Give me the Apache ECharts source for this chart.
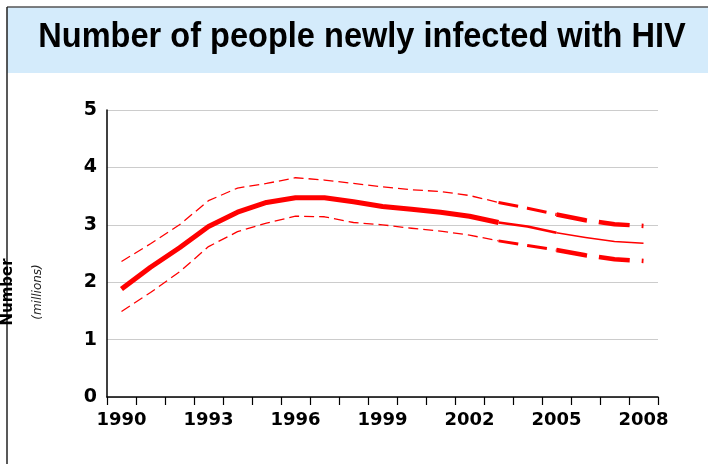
<!DOCTYPE html>
<html>
<head>
<meta charset="utf-8">
<script src="https://cdn.jsdelivr.net/npm/echarts@6/dist/echarts.min.js"></script>
<style>
  html, body { margin: 0; padding: 0; background: #fff; }
  #chart { width: 708px; height: 464px; }
</style>
</head>
<body>
<div id="chart"></div>
<script>
const years = ['1990', '1991', '1992', '1993', '1994', '1995', '1996', '1997', '1998', '1999',
               '2000', '2001', '2002', '2003', '2004', '2005', '2006', '2007', '2008'];
const estimate = [1.88, 2.26, 2.60, 2.97, 3.22, 3.39, 3.47, 3.47, 3.40, 3.32,
                  3.27, 3.22, 3.15, 3.04, 2.97, 2.86, 2.78, 2.71, 2.68];
const upper = [2.36, 2.67, 3.00, 3.42, 3.64, 3.72, 3.82, 3.78, 3.72, 3.66,
               3.61, 3.58, 3.51, 3.39, 3.29, 3.18, 3.08, 3.01, 2.98];
const lower = [1.49, 1.82, 2.18, 2.62, 2.88, 3.03, 3.15, 3.14, 3.04, 3.00,
               2.94, 2.89, 2.82, 2.72, 2.64, 2.56, 2.47, 2.40, 2.37];
const yTicks = [0, 1, 2, 3, 4, 5];

const RED = '#ff0000';

// keep only the points between two years (inclusive), null elsewhere
function part(arr, from, to) {
    const a = years.indexOf(from), b = years.indexOf(to);
    return arr.map((v, i) => (i >= a && i <= b ? v : null));
}

function line(data, width, dash) {
    return {
        type: 'line',
        data: data,
        symbol: 'none',
        connectNulls: false,
        silent: true,
        lineStyle: { color: RED, width: width, type: dash || 'solid', cap: 'butt', join: 'round' }
    };
}

const chart = echarts.init(document.getElementById('chart'));

chart.setOption({
    animation: false,
    grid: { left: 107, right: 50, top: 110, bottom: 67 },
    graphic: [
        { type: 'rect', shape: { x: 7, y: 7, width: 701, height: 66 }, style: { fill: '#d4ebfb' }, z: -10 },
        { type: 'line', shape: { x1: 7, y1: 7, x2: 708, y2: 7 }, style: { stroke: '#555', lineWidth: 1.5 } },
        { type: 'line', shape: { x1: 7, y1: 7, x2: 7, y2: 464 }, style: { stroke: '#222', lineWidth: 1.5 } },
        {
            type: 'text', x: 362, y: 37, scaleX: 0.93,
            style: {
                text: 'Number of people newly infected with HIV',
                fontFamily: 'Liberation Sans', fontWeight: 'bold', fontSize: 35,
                fill: '#000', align: 'center', verticalAlign: 'middle'
            }
        },
        {
            type: 'text', x: 8, y: 292, rotation: Math.PI / 2,
            style: {
                text: 'Number', fontFamily: 'DejaVu Sans', fontWeight: 'bold', fontSize: 15,
                fill: '#000', align: 'center', verticalAlign: 'middle'
            }
        },
        {
            type: 'text', x: 38, y: 292, rotation: Math.PI / 2,
            style: {
                text: '(millions)', fontFamily: 'DejaVu Sans', fontStyle: 'italic', fontSize: 12,
                fill: '#222', align: 'center', verticalAlign: 'middle'
            }
        }
    ],
    xAxis: {
        type: 'category',
        data: years,
        boundaryGap: true,
        axisLine: { lineStyle: { color: '#000', width: 1.5 } },
        axisTick: { show: true, interval: 0, length: 8, lineStyle: { color: '#000', width: 1.2 } },
        axisLabel: {
            interval: 2, color: '#000', fontFamily: 'DejaVu Sans', fontWeight: 'bold',
            fontSize: 18, margin: 14
        },
        splitLine: { show: false }
    },
    yAxis: {
        type: 'value',
        min: yTicks[0],
        max: yTicks[yTicks.length - 1],
        interval: 1,
        axisLine: { show: true, lineStyle: { color: '#000', width: 1.5 } },
        axisTick: { show: false },
        axisLabel: {
            color: '#000', fontFamily: 'DejaVu Sans', fontWeight: 'bold', fontSize: 19, margin: 10
        },
        splitLine: { lineStyle: { color: '#cccccc', width: 1.2 } }
    },
    series: [
        line(part(upper, '1990', '2003'), 1.3, [10, 5]),
        line(part(upper, '2003', '2005'), 3, [20, 9]),
        line(part(upper, '2005', '2008'), 4.5, [31, 12]),
        line(part(lower, '1990', '2003'), 1.3, [10, 5]),
        line(part(lower, '2003', '2005'), 3, [20, 9]),
        line(part(lower, '2005', '2008'), 4.5, [31, 12]),
        line(part(estimate, '1990', '2003'), 5),
        line(part(estimate, '2003', '2005'), 2.5),
        line(part(estimate, '2005', '2008'), 1.5)
    ]
});
</script>
</body>
</html>
